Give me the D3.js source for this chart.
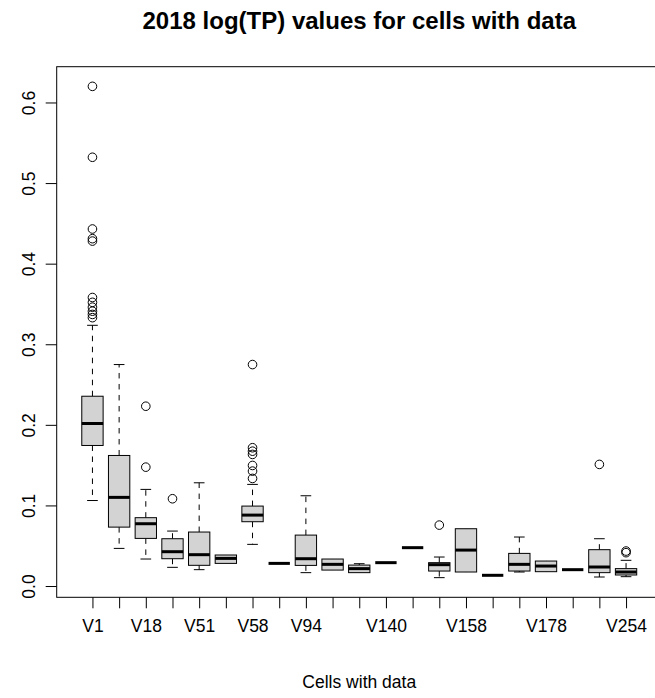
<!DOCTYPE html>
<html lang="en">
<head>
  <meta charset="UTF-8" />
  <title>2018 log(TP) boxplot</title>
  <script src="https://d3js.org/d3.v7.min.js"></script>
  <style>
    body {
      margin: 0;
      background: #fff;
    }
    svg text {
      font-family: "Liberation Sans", Arial, Helvetica, sans-serif;
      fill: #000;
    }
  </style>
</head>
<body>
  <svg id="chart" width="655" height="698"></svg>

  <script>
    // one entry per cell (21 boxes); blank labels are the ones R dropped for overlap
    const tickLabels = ["V1", "", "V18", "", "V51", "", "V58", "", "V94", "", "",
                        "V140", "", "", "V158", "", "", "V178", "", "", "V254"];

    // five-number summaries
    const whiskLow = [0.1061, 0.0467, 0.0335, 0.0232, 0.0203, 0.0281, 0.0517, 0.0281, 0.0166, 0.0198, 0.0166,
                      0.0290, 0.0476, 0.0104, 0.0174, 0.0133, 0.0174, 0.0178, 0.0203, 0.0112, 0.0116];
    const q1       = [0.1744, 0.0731, 0.0591, 0.0339, 0.0257, 0.0281, 0.0798, 0.0281, 0.0256, 0.0198, 0.0166,
                      0.0290, 0.0476, 0.0186, 0.0174, 0.0133, 0.0186, 0.0178, 0.0203, 0.0166, 0.0137];
    const medians  = [0.2017, 0.1100, 0.0773, 0.0426, 0.0389, 0.0343, 0.0880, 0.0281, 0.0339, 0.0269, 0.0216,
                      0.0290, 0.0476, 0.0265, 0.0446, 0.0133, 0.0269, 0.0248, 0.0203, 0.0236, 0.0174];
    const q3       = [0.2355, 0.1620, 0.0848, 0.0587, 0.0670, 0.0385, 0.0992, 0.0281, 0.0632, 0.0335, 0.0260,
                      0.0290, 0.0476, 0.0290, 0.0711, 0.0133, 0.0405, 0.0310, 0.0203, 0.0451, 0.0216];
    const whiskHigh = [0.3235, 0.2748, 0.1199, 0.0682, 0.1281, 0.0385, 0.1261, 0.0281, 0.1120, 0.0335, 0.0277,
                       0.0290, 0.0476, 0.0360, 0.0711, 0.0133, 0.0608, 0.0310, 0.0203, 0.0587, 0.0319];
    const outliers = [
      [0.620, 0.532, 0.443, 0.431, 0.428, 0.358, 0.352, 0.346, 0.341, 0.337, 0.333],
      [], [0.2231, 0.1475], [0.1083], [], [],
      [0.2748, 0.1716, 0.1673, 0.1633, 0.1496, 0.1426, 0.1335],
      [], [], [], [], [], [], [0.0756], [], [], [], [], [], [0.1509], [0.0434, 0.0414]
    ];

    const yTicks = [0, 0.1, 0.2, 0.3, 0.4, 0.5, 0.6];

    const svg = d3.select("#chart");
    const plotLeft = 56.7, plotRight = 661.8, plotTop = 66.7, plotBottom = 597.3;
    const n = tickLabels.length;

    // R style ranges: boxes at 1..n, xlim n +/- 0.5, both axes padded 4%
    const xPad = n * 0.04;
    const x = d3.scaleLinear().domain([0.5 - xPad, n + 0.5 + xPad]).range([plotLeft, plotRight]);

    const allVals = whiskLow.concat(whiskHigh, outliers.flat());
    const lo = d3.min(allVals), hi = d3.max(allVals);
    const yPad = (hi - lo) * 0.04;
    const y = d3.scaleLinear().domain([lo - yPad, hi + yPad]).range([plotBottom, plotTop]);

    const boxW = (x(2) - x(1)) * 0.8;
    const capW = boxW / 2;

    const boxes = tickLabels.map((lab, i) => ({
      i: i + 1, lo: whiskLow[i], q1: q1[i], med: medians[i], q3: q3[i], hi: whiskHigh[i], out: outliers[i]
    }));

    const g = svg.append("g");

    // whiskers (dashed) and staples
    g.append("g").selectAll("line").data(boxes).join("line")
      .attr("x1", d => x(d.i)).attr("x2", d => x(d.i))
      .attr("y1", d => y(d.q1)).attr("y2", d => y(d.lo))
      .attr("stroke", "#000").attr("stroke-dasharray", "5.5,5.5");
    g.append("g").selectAll("line").data(boxes).join("line")
      .attr("x1", d => x(d.i)).attr("x2", d => x(d.i))
      .attr("y1", d => y(d.q3)).attr("y2", d => y(d.hi))
      .attr("stroke", "#000").attr("stroke-dasharray", "5.5,5.5");
    g.append("g").selectAll("line").data(boxes.filter(d => d.lo < d.q1)).join("line")
      .attr("x1", d => x(d.i) - capW / 2).attr("x2", d => x(d.i) + capW / 2)
      .attr("y1", d => y(d.lo)).attr("y2", d => y(d.lo))
      .attr("stroke", "#000");
    g.append("g").selectAll("line").data(boxes.filter(d => d.hi > d.q3)).join("line")
      .attr("x1", d => x(d.i) - capW / 2).attr("x2", d => x(d.i) + capW / 2)
      .attr("y1", d => y(d.hi)).attr("y2", d => y(d.hi))
      .attr("stroke", "#000");

    // boxes
    g.append("g").selectAll("rect").data(boxes).join("rect")
      .attr("x", d => x(d.i) - boxW / 2)
      .attr("width", boxW)
      .attr("y", d => y(d.q3))
      .attr("height", d => y(d.q1) - y(d.q3))
      .attr("fill", "#d3d3d3")
      .attr("stroke", "#000");

    // medians
    g.append("g").selectAll("line").data(boxes).join("line")
      .attr("x1", d => x(d.i) - boxW / 2).attr("x2", d => x(d.i) + boxW / 2)
      .attr("y1", d => y(d.med)).attr("y2", d => y(d.med))
      .attr("stroke", "#000").attr("stroke-width", 3);

    // outliers
    const pts = boxes.flatMap(d => d.out.map(v => ({ i: d.i, v })));
    g.append("g").selectAll("circle").data(pts).join("circle")
      .attr("cx", d => x(d.i)).attr("cy", d => y(d.v)).attr("r", 4.3)
      .attr("fill", "none").attr("stroke", "#000");

    // axes
    const xAxis = svg.append("g")
      .attr("transform", `translate(0,${plotBottom})`)
      .call(d3.axisBottom(x).tickValues(d3.range(1, n + 1)).tickSize(11).tickPadding(11)
        .tickFormat(v => tickLabels[v - 1]));
    xAxis.select(".domain").remove();
    xAxis.selectAll("text").attr("font-size", 17.5);

    const yAxis = svg.append("g")
      .attr("transform", `translate(${plotLeft},0)`)
      .call(d3.axisLeft(y).tickValues(yTicks).tickSize(11).tickFormat(v => v.toFixed(1)));
    yAxis.select(".domain").remove();
    yAxis.selectAll("text")
      .attr("transform", "rotate(-90)")
      .attr("x", 0).attr("y", -22).attr("dy", 0)
      .attr("text-anchor", "middle")
      .attr("font-size", 17.5);
    svg.selectAll(".tick line").attr("stroke", "#000");
    svg.selectAll(".tick text").attr("fill", "#000");
    svg.selectAll(".tick").attr("font-family", null);

    // frame
    svg.append("rect")
      .attr("x", plotLeft).attr("y", plotTop)
      .attr("width", plotRight - plotLeft).attr("height", plotBottom - plotTop)
      .attr("fill", "none").attr("stroke", "#000");

    // titles
    svg.append("text")
      .attr("x", (plotLeft + plotRight) / 2).attr("y", 29)
      .attr("text-anchor", "middle")
      .attr("font-size", 24).attr("font-weight", "bold")
      .text("2018 log(TP) values for cells with data");

    svg.append("text")
      .attr("x", (plotLeft + plotRight) / 2).attr("y", 688)
      .attr("text-anchor", "middle")
      .attr("font-size", 17.5)
      .text("Cells with data");
  </script>
</body>
</html>
